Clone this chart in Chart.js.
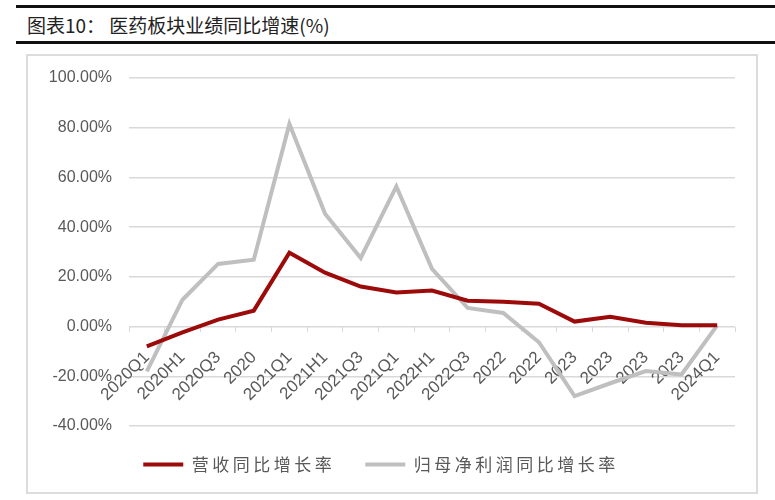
<!DOCTYPE html>
<html>
<head>
<meta charset="utf-8">
<script src="https://cdn.jsdelivr.net/npm/chart.js@4"></script>
<style>
    body { margin: 0; background: #fff; }
    #wrap { position: relative; width: 775px; height: 500px; }
    #title {
        position: absolute; left: 16px; top: 5px; width: 749px; height: 33px;
        border-top: 3px solid #111; border-bottom: 3px solid #111;
        font: 19px "Noto Sans CJK SC", sans-serif; color: #222;
        line-height: 33px; padding-left: 11px; box-sizing: content-box;
    }
    #box {
        position: absolute; left: 26px; top: 54px; width: 728px; height: 436px;
        border: 2px solid #dcdcdc;
    }
    canvas { position: absolute; left: 0; top: 0; }
</style>
</head>
<body>
<div id="wrap">
    <div id="title">图表10： 医药板块业绩同比增速(%)</div>
    <div id="box"></div>
    <canvas id="myChart" width="775" height="500"></canvas>
</div>
<script>
let periods = ['2020Q1', '2020H1', '2020Q3', '2020', '2021Q1', '2021H1', '2021Q3', '2021Q1', '2022H1',
    '2022Q3', '2022', '2022', '2023', '2023', '2023', '2023', '2024Q1'];
let revenueGrowth = [-8.0, -2.3, 2.8, 6.4, 29.7, 21.7, 16.1, 13.7, 14.5,
    10.4, 10.0, 9.2, 2.0, 3.9, 1.5, 0.5, 0.5];
let profitGrowth = [-18.0, 10.8, 25.2, 26.9, 81.5, 45.4, 27.6, 56.4, 23.2,
    7.5, 5.5, -6.3, -28.0, -22.8, -17.9, -19.3, 0.5];
let yMin = -40, yMax = 100, yStep = 20;

const fontFamily = '"Liberation Sans", "Noto Sans CJK SC", sans-serif';

// legend text in the original is spaced out, so widen it a little
const spacedLegend = {
    id: 'spacedLegend',
    afterInit(chart) {
        const lg = chart.legend;
        ['fit', 'draw'].forEach(fn => {
            const orig = lg[fn].bind(lg);
            lg[fn] = function (...args) {
                const c = chart.ctx;
                const old = c.letterSpacing;
                c.letterSpacing = '3.5px';
                orig(...args);
                c.letterSpacing = old;
            };
        });
    }
};

let ctx = document.getElementById('myChart').getContext('2d');

let myChart = new Chart(ctx, {
    type: 'line',
    data: {
        labels: periods,
        datasets: [
            {
                label: '营收同比增长率',
                data: revenueGrowth,
                borderColor: '#9c0a0a',
                backgroundColor: '#9c0a0a',
                borderWidth: 4,
                pointRadius: 0,
                tension: 0
            },
            {
                label: '归母净利润同比增长率',
                data: profitGrowth,
                borderColor: '#bfbfbf',
                backgroundColor: '#bfbfbf',
                borderWidth: 4,
                pointRadius: 0,
                tension: 0
            }
        ]
    },
    options: {
        responsive: false,
        animation: false,
        layout: {
            padding: { left: 27, right: 40, top: 78, bottom: 17 }
        },
        scales: {
            x: {
                position: { y: 0 },
                offset: true,
                grid: {
                    offset: true,
                    drawOnChartArea: false,
                    drawTicks: true,
                    tickLength: 5,
                    color: '#d9d9d9'
                },
                border: { display: false },
                ticks: {
                    autoSkip: false,
                    minRotation: 45,
                    maxRotation: 45,
                    padding: 16,
                    color: '#595959',
                    font: { family: fontFamily, size: 17 }
                }
            },
            y: {
                min: yMin,
                max: yMax,
                grid: {
                    color: '#d9d9d9',
                    lineWidth: 1.5,
                    drawTicks: false
                },
                border: { display: false },
                ticks: {
                    stepSize: yStep,
                    padding: 17,
                    color: '#595959',
                    font: { family: fontFamily, size: 16 },
                    callback: (v) => v.toFixed(2) + '%'
                },
                afterFit: (scale) => { scale.width = 102; }
            }
        },
        plugins: {
            legend: {
                position: 'bottom',
                labels: {
                    boxWidth: 40,
                    boxHeight: 4,
                    padding: 30,
                    color: '#595959',
                    font: { family: '"Noto Sans CJK SC", sans-serif', size: 17 },
                    generateLabels: (chart) => chart.data.datasets.map((ds, i) => ({
                        text: ds.label,
                        fillStyle: ds.borderColor,
                        strokeStyle: ds.borderColor,
                        lineWidth: 0,
                        fontColor: '#595959',
                        datasetIndex: i
                    }))
                }
            },
            tooltip: { enabled: false }
        }
    },
    plugins: [spacedLegend]
});
</script>
</body>
</html>
